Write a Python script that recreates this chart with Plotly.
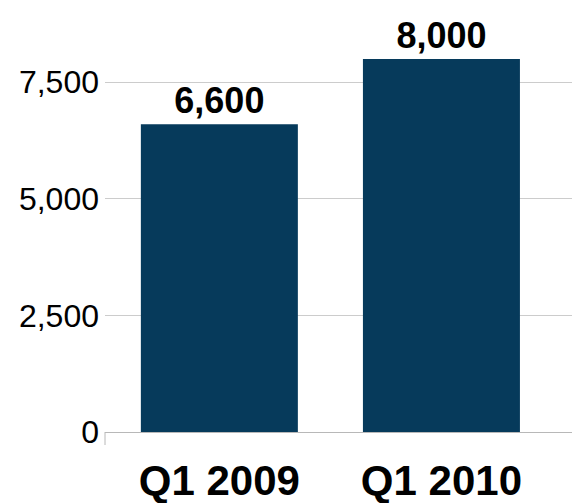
import plotly.graph_objects as go

# Quarterly totals
quarters = ["Q1 2009", "Q1 2010"]
values = [6600, 8000]
y_ticks = [0, 2500, 5000, 7500]

BAR_COLOR = "#063a5b"
GRID_COLOR = "#cccccc"
AXIS_COLOR = "#b8b8b8"
FONT = "Liberation Sans, Arial, sans-serif"

fig = go.Figure(
    go.Bar(
        x=quarters,
        y=values,
        width=0.707,
        marker=dict(color=BAR_COLOR, line=dict(width=0)),
        texttemplate="%{y:,}",
        textposition="outside",
        textfont=dict(family=FONT, size=36, color="#000000", weight="bold"),
        constraintext="none",
        cliponaxis=False,
        hoverinfo="skip",
    )
)

fig.update_layout(
    template="none",
    width=572,
    height=503,
    margin=dict(l=105, r=0, t=12, b=71, autoexpand=False),
    paper_bgcolor="white",
    plot_bgcolor="white",
    showlegend=False,
    font=dict(family=FONT, color="#000000"),
)

fig.update_xaxes(
    type="category",
    categoryorder="array",
    categoryarray=quarters,
    range=[-0.515, 1.588],
    showgrid=False,
    zeroline=False,
    showline=True,
    linecolor=AXIS_COLOR,
    linewidth=1,
    ticks="",
    ticklabelstandoff=12,
    tickfont=dict(family=FONT, size=42, color="#000000", weight="bold"),
    automargin=False,
)

fig.update_yaxes(
    range=[0, 9007],
    tickmode="array",
    tickvals=y_ticks,
    tickformat=",",
    showgrid=True,
    gridcolor=GRID_COLOR,
    gridwidth=1,
    zeroline=False,
    showline=False,
    ticks="",
    ticklabelstandoff=5,
    tickfont=dict(family=FONT, size=32, color="#000000"),
    automargin=False,
)

# short stub below the left end of the baseline
fig.add_shape(
    type="line",
    xref="x domain", yref="y domain",
    x0=0, x1=0, y0=0, y1=-0.031,
    line=dict(color=AXIS_COLOR, width=1),
)

fig.write_html("out.html")
